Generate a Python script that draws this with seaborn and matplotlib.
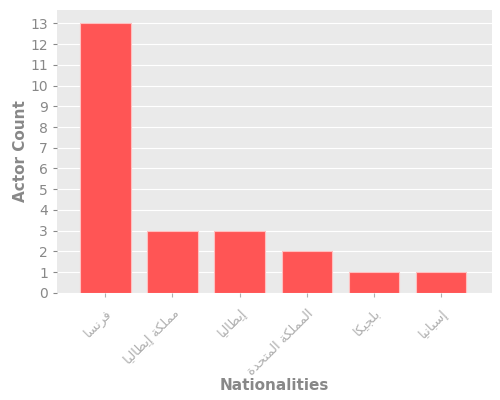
import matplotlib
matplotlib.use("Agg")
import matplotlib.pyplot as plt
import seaborn as sns
import pandas as pd

nationalities = ["فرنسا", "مملكة إيطاليا", "إيطاليا", "المملكة المتحدة", "بلجيكا", "إسبانيا"]
actor_counts = [13, 3, 3, 2, 1, 1]

# matplotlib has no Arabic shaping, so map letters to presentation forms by hand
DUAL = {"ب": 0xFE8F, "ت": 0xFE95, "ج": 0xFE9D, "ح": 0xFEA1, "س": 0xFEB1, "ط": 0xFEC1,
        "ف": 0xFED1, "ك": 0xFED9, "ل": 0xFEDD, "م": 0xFEE1, "ن": 0xFEE5, "ي": 0xFEF1}
RIGHT = {"ا": 0xFE8D, "إ": 0xFE87, "ة": 0xFE93, "د": 0xFEA9, "ر": 0xFEAD}


def shape(word):
    out = []
    for i, ch in enumerate(word):
        prev = word[i - 1] if i > 0 else " "
        nxt = word[i + 1] if i < len(word) - 1 else " "
        join_prev = prev in DUAL
        join_next = ch in DUAL and (nxt in DUAL or nxt in RIGHT)
        if ch in DUAL:
            base = DUAL[ch]
            if join_prev and join_next:
                out.append(chr(base + 3))
            elif join_prev:
                out.append(chr(base + 1))
            elif join_next:
                out.append(chr(base + 2))
            else:
                out.append(chr(base))
        elif ch in RIGHT:
            out.append(chr(RIGHT[ch] + 1) if join_prev else chr(RIGHT[ch]))
        else:
            out.append(ch)
    return "".join(reversed(out))


df = pd.DataFrame({"nationality": nationalities, "count": actor_counts})

sns.set_style("darkgrid", {"axes.facecolor": "#EAEAEA", "grid.color": "white"})
plt.rcParams["font.family"] = ["DejaVu Sans"]

fig, ax = plt.subplots(figsize=(5, 4), dpi=100)
sns.barplot(data=df, x="nationality", y="count", color="#FF5555", saturation=1,
            width=0.75, edgecolor="#FFC0C0", linewidth=0.8, ax=ax)

ax.set_xticks(range(len(nationalities)))
ax.set_xticklabels([shape(n) for n in nationalities], rotation=45, ha="right",
                   rotation_mode="anchor", color="#888888", fontsize=9.5)
ax.set_yticks(range(0, 14))
ax.tick_params(axis="y", colors="#888888", labelsize=10, length=3, left=True)
ax.tick_params(axis="x", colors="#B0B0B0", length=3, bottom=True, pad=7)
for lab in ax.get_yticklabels():
    lab.set_color("#888888")
ax.xaxis.grid(False)
ax.set_xlim(-0.72, 5.76)
ax.set_ylim(0, 13.65)
for s in ax.spines.values():
    s.set_visible(False)

ax.set_xlabel("Nationalities", fontsize=11, fontweight="bold", color="#888888")
ax.set_ylabel("Actor Count", fontsize=11, fontweight="bold", color="#888888")
ax.xaxis.set_label_coords(0.5, -0.3)
ax.yaxis.set_label_coords(-0.066, 0.5)

fig.subplots_adjust(left=0.114, right=0.984, top=0.975, bottom=0.268)
fig.savefig("out.png")
